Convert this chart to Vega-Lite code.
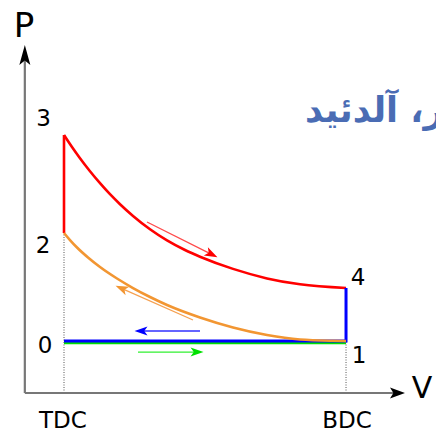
{
  "$schema": "https://vega.github.io/schema/vega-lite/v6.json",
  "width": 436,
  "height": 430,
  "padding": 0,
  "autosize": {"type": "none"},
  "config": {"view": {"stroke": null}},
  "encoding": {
    "x": {"field": "V", "type": "quantitative", "scale": {"domain": [-0.634, 10.497], "nice": false, "zero": false}, "axis": null},
    "y": {"field": "P", "type": "quantitative", "scale": {"domain": [-0.7115, 7.558], "nice": false, "zero": false}, "axis": null}
  },
  "layer": [
    {
      "data": {"values": [{"V": 1, "P": 0, "P2": 3.077}, {"V": 8.2, "P": 0, "P2": 1.0}]},
      "mark": {"type": "rule", "color": "#555555", "strokeWidth": 1, "strokeDash": [1, 1.5]},
      "encoding": {"y2": {"field": "P2"}}
    },
    {
      "data": {"values": [{"V": 0, "P": 0, "V2": 9.45, "P2": 0}, {"V": 0, "P": 0, "V2": 0, "P2": 6.4}]},
      "mark": {"type": "rule", "color": "#777777", "strokeWidth": 2.2},
      "encoding": {"x2": {"field": "V2"}, "y2": {"field": "P2"}}
    },
    {
      "data": {"values": [{"V": 9.514, "P": 0}]},
      "mark": {"type": "point", "shape": "M1,0 L-1,-0.73 L-0.55,0 L-1,0.73 Z", "size": 225, "filled": true, "color": "#000000", "opacity": 1, "angle": 0}
    },
    {
      "data": {"values": [{"V": 0, "P": 6.5}]},
      "mark": {"type": "point", "shape": "M1,0 L-1,-0.55 L-0.55,0 L-1,0.55 Z", "size": 400, "filled": true, "color": "#000000", "opacity": 1, "angle": 270}
    },
    {
      "data": {"values": [{"V": 1, "P": 0.965}, {"V": 8.2, "P": 0.965}]},
      "mark": {"type": "line", "color": "#00e000", "strokeWidth": 3}
    },
    {
      "data": {"values": [
        {"V": 1.0, "P": 4.962}, {"V": 1.204, "P": 4.731}, {"V": 1.408, "P": 4.515}, {"V": 1.664, "P": 4.265},
        {"V": 1.919, "P": 4.035}, {"V": 2.174, "P": 3.823}, {"V": 2.43, "P": 3.631}, {"V": 2.762, "P": 3.406},
        {"V": 3.196, "P": 3.15}, {"V": 3.63, "P": 2.935}, {"V": 4.089, "P": 2.75}, {"V": 4.472, "P": 2.621},
        {"V": 5.315, "P": 2.387}, {"V": 6.183, "P": 2.204}, {"V": 7.025, "P": 2.09}, {"V": 8.2, "P": 2.019}
      ]},
      "mark": {"type": "line", "color": "#ff0000", "strokeWidth": 2.6, "interpolate": "monotone"}
    },
    {
      "data": {"values": [{"V": 1, "P": 3.077, "P2": 4.962}]},
      "mark": {"type": "rule", "color": "#ff0000", "strokeWidth": 2.6},
      "encoding": {"y2": {"field": "P2"}}
    },
    {
      "data": {"values": [{"V": 8.2, "P": 2.019, "o": 1}, {"V": 8.2, "P": 1.0, "o": 2}, {"V": 1, "P": 1.0, "o": 3}]},
      "mark": {"type": "line", "color": "#0000ff", "strokeWidth": 3},
      "encoding": {"order": {"field": "o"}}
    },
    {
      "data": {"values": [
        {"V": 1.0, "P": 3.077}, {"V": 1.153, "P": 2.942}, {"V": 1.332, "P": 2.798}, {"V": 1.613, "P": 2.606},
        {"V": 1.919, "P": 2.423}, {"V": 2.353, "P": 2.202}, {"V": 2.762, "P": 2.019}, {"V": 3.196, "P": 1.846},
        {"V": 3.63, "P": 1.692}, {"V": 4.472, "P": 1.452}, {"V": 5.315, "P": 1.26}, {"V": 6.183, "P": 1.115},
        {"V": 7.025, "P": 1.029}, {"V": 7.868, "P": 1.004}, {"V": 8.2, "P": 1.0}
      ]},
      "mark": {"type": "line", "color": "#f29632", "strokeWidth": 2.6, "interpolate": "monotone"}
    },
    {
      "data": {"values": [{"V": 3.119, "P": 3.288, "V2": 4.769, "P2": 2.667}]},
      "mark": {"type": "rule", "color": "#ff4a4a", "strokeWidth": 1.3},
      "encoding": {"x2": {"field": "V2"}, "y2": {"field": "P2"}}
    },
    {
      "data": {"values": [{"V": 4.769, "P": 2.667}]},
      "mark": {"type": "point", "shape": "M1,0 L-1,-0.7 L-0.5,0 L-1,0.7 Z", "size": 169, "filled": true, "color": "#ff0000", "opacity": 1, "angle": 26.6}
    },
    {
      "data": {"values": [{"V": 4.293, "P": 1.404, "V2": 2.468, "P2": 2.012}]},
      "mark": {"type": "rule", "color": "#f5a050", "strokeWidth": 1.3},
      "encoding": {"x2": {"field": "V2"}, "y2": {"field": "P2"}}
    },
    {
      "data": {"values": [{"V": 2.468, "P": 2.012}]},
      "mark": {"type": "point", "shape": "M1,0 L-1,-0.7 L-0.5,0 L-1,0.7 Z", "size": 169, "filled": true, "color": "#f29632", "opacity": 1, "angle": 203.8}
    },
    {
      "data": {"values": [{"V": 4.472, "P": 1.192, "V2": 2.966, "P2": 1.192}]},
      "mark": {"type": "rule", "color": "#3030ff", "strokeWidth": 1.3},
      "encoding": {"x2": {"field": "V2"}, "y2": {"field": "P2"}}
    },
    {
      "data": {"values": [{"V": 2.966, "P": 1.192}]},
      "mark": {"type": "point", "shape": "M1,0 L-1,-0.7 L-0.5,0 L-1,0.7 Z", "size": 169, "filled": true, "color": "#0000ff", "opacity": 1, "angle": 180}
    },
    {
      "data": {"values": [{"V": 2.889, "P": 0.788, "V2": 4.396, "P2": 0.788}]},
      "mark": {"type": "rule", "color": "#30f030", "strokeWidth": 1.3},
      "encoding": {"x2": {"field": "V2"}, "y2": {"field": "P2"}}
    },
    {
      "data": {"values": [{"V": 4.396, "P": 0.788}]},
      "mark": {"type": "point", "shape": "M1,0 L-1,-0.7 L-0.5,0 L-1,0.7 Z", "size": 169, "filled": true, "color": "#00e000", "opacity": 1, "angle": 0}
    },
    {
      "data": {"values": [
        {"t": "3", "V": 0.477, "P": 5.135},
        {"t": "2", "V": 0.464, "P": 2.692},
        {"t": "0", "V": 0.515, "P": 0.769},
        {"t": "1", "V": 8.531, "P": 0.577},
        {"t": "4", "V": 8.505, "P": 2.077},
        {"t": "TDC", "V": 0.97, "P": -0.664},
        {"t": "BDC", "V": 8.225, "P": -0.664}
      ]},
      "mark": {"type": "text", "align": "center", "baseline": "alphabetic", "font": "DejaVu Sans", "fontSize": 23, "color": "#000000"},
      "encoding": {"text": {"field": "t"}}
    },
    {
      "data": {"values": [{"t": "P", "V": -0.02, "P": 6.846}]},
      "mark": {"type": "text", "align": "center", "baseline": "alphabetic", "font": "DejaVu Sans", "fontSize": 34, "color": "#000000"},
      "encoding": {"text": {"field": "t"}}
    },
    {
      "data": {"values": [{"t": "V", "V": 10.14, "P": -0.096}]},
      "mark": {"type": "text", "align": "center", "baseline": "alphabetic", "font": "DejaVu Sans", "fontSize": 30, "color": "#000000"},
      "encoding": {"text": {"field": "t"}}
    },
    {
      "data": {"values": [{"t": "ر، آلدئید", "V": 7.153, "P": 5.212}]},
      "mark": {"type": "text", "align": "left", "baseline": "alphabetic", "font": "DejaVu Sans", "fontSize": 35, "fontWeight": "bold", "color": "#4a6cb4"},
      "encoding": {"text": {"field": "t"}}
    }
  ]
}
